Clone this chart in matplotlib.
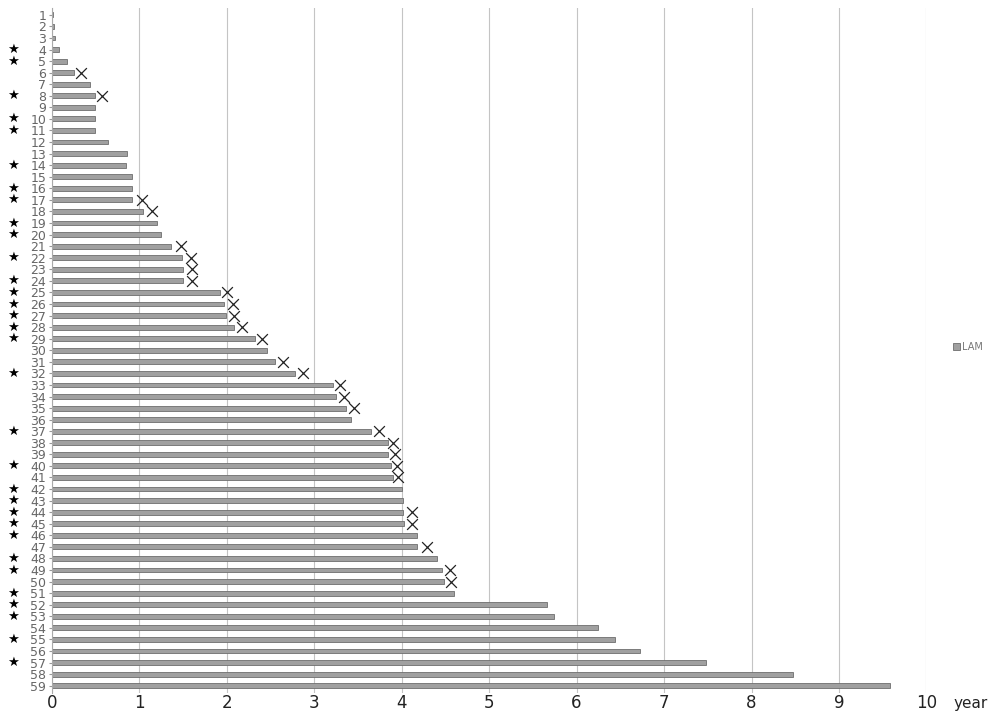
import matplotlib.pyplot as plt
from matplotlib.transforms import blended_transform_factory

# duracao de cada paciente (anos), do 1 ao 59
patients = list(range(1, 60))
years = [0.02, 0.03, 0.04, 0.08, 0.17, 0.25, 0.44, 0.49, 0.49, 0.49,
         0.50, 0.64, 0.86, 0.85, 0.92, 0.92, 0.92, 1.04, 1.21, 1.25,
         1.36, 1.49, 1.50, 1.50, 1.92, 1.97, 1.99, 2.09, 2.32, 2.46,
         2.55, 2.78, 3.22, 3.25, 3.37, 3.42, 3.65, 3.84, 3.85, 3.88,
         3.90, 4.00, 4.02, 4.02, 4.03, 4.18, 4.18, 4.41, 4.46, 4.48,
         4.60, 5.66, 5.74, 6.24, 6.44, 6.73, 7.48, 8.47, 9.58]

# pacientes marcados com estrela na esquerda
star_rows = [4, 5, 8, 10, 11, 14, 16, 17, 19, 20, 22, 24, 25, 26, 27, 28,
             29, 32, 37, 40, 42, 43, 44, 45, 46, 48, 49, 51, 52, 53, 55, 57]

# pacientes com X e a posicao do X (anos)
x_rows = [6, 8, 17, 18, 21, 22, 23, 24, 25, 26, 27, 28, 29, 31, 32, 33, 34,
          35, 37, 38, 39, 40, 41, 44, 45, 47, 49, 50]
x_years = [0.34, 0.58, 1.03, 1.15, 1.48, 1.59, 1.60, 1.60, 2.01, 2.07, 2.09,
           2.18, 2.41, 2.64, 2.87, 3.30, 3.34, 3.46, 3.74, 3.90, 3.92, 3.95,
           3.96, 4.12, 4.12, 4.29, 4.55, 4.56]

fig = plt.figure(figsize=(9.93, 7.17), dpi=100)
ax = fig.add_axes([0.052, 0.034, 0.881, 0.955])

ax.barh(patients, years, height=0.42, color="#a0a0a0", edgecolor="#6e6e6e",
        linewidth=0.6, label="LAM", zorder=2)
ax.scatter(x_years, x_rows, marker="x", s=60, color="#222222",
           linewidths=0.9, zorder=3)

ax.set_xlim(0, 10)
ax.set_ylim(59.6, 0.4)
ax.set_xticks(range(0, 11))
ax.set_yticks(patients)
ax.set_yticklabels([str(p) for p in patients], fontsize=9, color="#666666")
ax.tick_params(axis="y", length=2, color="#999999", pad=2)
ax.tick_params(axis="x", length=0, labelsize=12, pad=1, labelcolor="#222222")

ax.grid(axis="x", color="#c4c4c4", linewidth=0.8, zorder=0)
for s in ["top", "right", "bottom"]:
    ax.spines[s].set_visible(False)
ax.spines["left"].set_color("#aaaaaa")
ax.spines["left"].set_linewidth(0.8)

trans = blended_transform_factory(fig.transFigure, ax.transData)
for r in star_rows:
    ax.text(0.013, r, "★", transform=trans, fontsize=9.5, color="black",
            ha="center", va="center")

fig.text(0.977, 0.019, "year", fontsize=11, color="#222222", ha="center",
         va="center")

leg = ax.legend(loc="center left", bbox_to_anchor=(1.02, 0.505), frameon=False,
                fontsize=7, handlelength=0.7, handleheight=0.7,
                handletextpad=0.3)
for t in leg.get_texts():
    t.set_color("#777777")

fig.savefig("out.png", dpi=100)
